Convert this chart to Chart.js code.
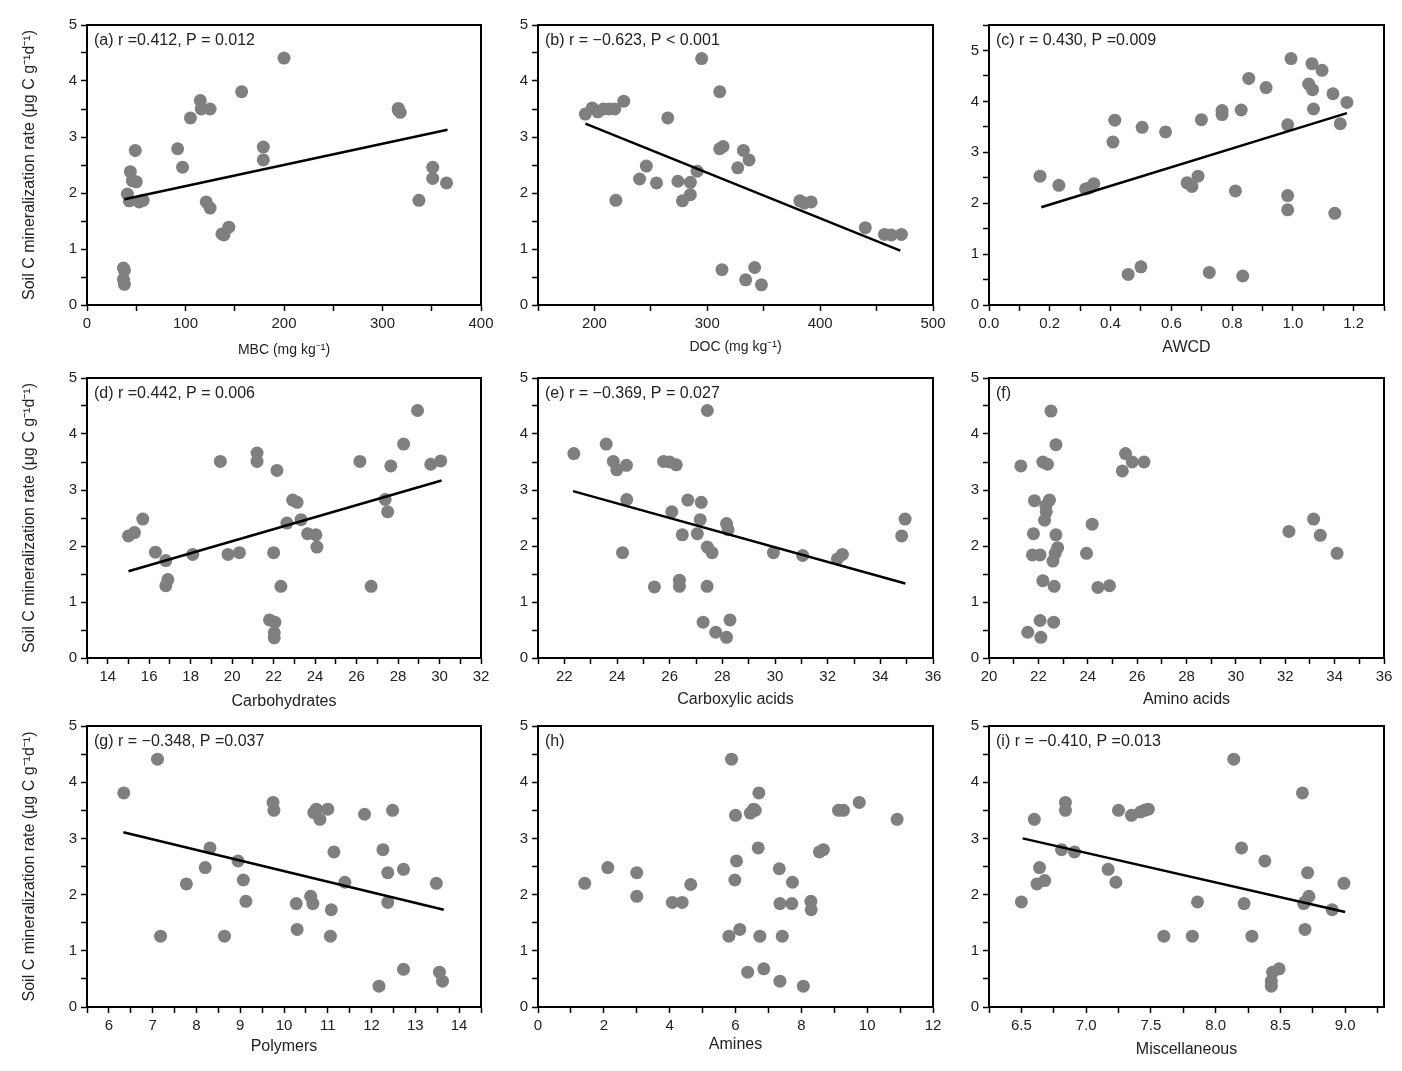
<!DOCTYPE html>
<html><head><meta charset="utf-8">
<script src="https://cdn.jsdelivr.net/npm/chart.js@4.4.0/dist/chart.umd.min.js"></script>
<style>
html,body{margin:0;padding:0;background:#fff;width:1402px;height:1071px;overflow:hidden;position:relative}
canvas{position:absolute}
</style></head><body>
<script>
// ---------- DATA ----------
const yTitleText = 'Soil C mineralization rate (μg C g⁻¹d⁻¹)';

const aX = [200,157,115,116,125,105,92,97,49,44,46,50,41,43,53,57,121,125,137,139,144,179,179,316,318,316,351,351,365,337,37,37,38,38];
const aY = [4.41,3.81,3.65,3.50,3.50,3.34,2.79,2.46,2.76,2.38,2.22,2.20,1.98,1.86,1.84,1.87,1.84,1.73,1.27,1.25,1.39,2.82,2.59,3.51,3.44,3.48,2.46,2.26,2.18,1.87,0.66,0.46,0.37,0.62];
const aFitX = [38,366], aFitY = [1.89,3.13];

const bX = [295,311,226,192,198,203,208,213,218,265,311,314,332,337,327,291,246,240,255,274,285,285,278,219,382,386,392,440,457,463,472,313,342,334,348];
const bY = [4.40,3.81,3.64,3.41,3.52,3.45,3.50,3.50,3.50,3.34,2.79,2.83,2.76,2.59,2.45,2.39,2.48,2.25,2.18,2.21,2.19,1.97,1.86,1.87,1.86,1.82,1.84,1.38,1.26,1.25,1.26,0.63,0.67,0.45,0.36];
const bFitX = [192,471], bFitY = [3.24,0.97];

const cX = [0.168,0.23,0.318,0.345,0.33,0.414,0.408,0.458,0.50,0.504,0.581,0.652,0.668,0.688,0.699,0.725,0.767,0.767,0.83,0.811,0.835,0.855,0.912,0.983,0.983,0.983,0.994,1.063,1.096,1.052,1.065,1.068,1.132,1.178,1.156,1.138];
const cY = [2.53,2.35,2.28,2.38,2.30,3.63,3.20,0.60,0.75,3.49,3.40,2.40,2.33,2.53,3.64,0.64,3.82,3.74,3.83,2.24,0.57,4.45,4.27,3.54,2.15,1.87,4.84,4.74,4.61,4.34,4.23,3.85,4.15,3.98,3.56,1.80];
const cFitX = [0.172,1.178], cFitY = [1.92,3.77];

const dX = [28.94,28.27,21.2,21.2,19.43,22.16,26.16,27.65,29.58,30.06,27.38,27.5,22.92,23.13,15.69,15.0,15.29,22.64,23.32,23.64,24.04,24.09,16.3,16.8,18.1,19.8,20.35,22.0,16.9,16.8,22.35,26.7,21.8,22.06,22.03,22.03];
const dY = [4.42,3.82,3.66,3.51,3.51,3.35,3.51,3.43,3.46,3.52,2.83,2.61,2.82,2.78,2.48,2.18,2.24,2.41,2.47,2.22,2.20,1.98,1.89,1.74,1.85,1.85,1.88,1.88,1.40,1.29,1.28,1.28,0.68,0.64,0.45,0.36];
const dFitX = [15.0,30.1], dFitY = [1.55,3.17];

const eX = [27.43,23.59,22.36,23.86,23.99,24.36,25.77,26.25,24.37,26.69,27.2,26.08,27.16,28.16,28.22,27.05,26.48,34.81,34.94,27.43,27.61,24.21,29.94,31.05,32.37,32.56,25.42,26.37,26.37,27.42,27.27,28.29,27.75,28.16,26.0];
const eY = [4.42,3.82,3.65,3.51,3.36,3.44,3.51,3.45,2.83,2.82,2.78,2.61,2.47,2.40,2.29,2.22,2.20,2.18,2.48,1.98,1.88,1.88,1.88,1.83,1.77,1.85,1.27,1.39,1.28,1.28,0.64,0.68,0.46,0.37,3.50];
const eFitX = [22.33,34.95], eFitY = [2.98,1.33];

const fX = [22.51,22.71,21.29,22.18,22.37,21.84,22.45,22.32,22.25,21.8,22.71,22.78,22.68,22.59,21.76,22.07,22.18,22.64,22.07,22.62,21.57,22.1,25.53,25.8,26.28,25.4,24.18,23.95,24.41,24.88,32.15,33.15,33.42,34.1,22.3];
const fY = [4.41,3.81,3.43,3.50,3.46,2.81,2.82,2.61,2.46,2.22,2.20,1.97,1.87,1.73,1.84,1.84,1.38,1.28,0.67,0.64,0.46,0.37,3.65,3.50,3.50,3.34,2.39,1.87,1.26,1.29,2.26,2.48,2.19,1.87,2.72];

const gX = [7.11,6.34,9.75,9.77,10.68,10.74,10.82,11.0,11.84,12.48,8.31,12.26,11.14,8.2,8.95,12.73,12.37,9.07,11.39,13.48,7.77,9.13,10.61,10.66,10.28,12.37,11.08,10.30,7.18,8.64,11.06,12.73,13.55,13.62,12.17];
const gY = [4.41,3.81,3.64,3.50,3.46,3.52,3.34,3.52,3.43,3.50,2.83,2.80,2.76,2.48,2.60,2.45,2.39,2.26,2.22,2.20,2.19,1.88,1.97,1.84,1.84,1.86,1.73,1.38,1.26,1.26,1.26,0.67,0.62,0.46,0.37];
const gFitX = [6.33,13.65], gFitY = [3.11,1.73];

const hX = [5.88,6.71,6.0,6.45,6.55,6.6,9.13,9.28,9.76,10.91,8.55,8.67,6.69,6.03,7.33,7.73,5.98,1.42,2.12,3.0,3.0,4.08,4.38,4.64,7.35,7.71,8.29,8.3,6.13,5.80,6.74,7.42,6.37,6.86,7.35,8.06];
const hY = [4.41,3.81,3.41,3.45,3.52,3.50,3.50,3.50,3.64,3.34,2.76,2.80,2.83,2.60,2.46,2.22,2.26,2.20,2.48,2.39,1.97,1.86,1.86,2.18,1.84,1.84,1.88,1.73,1.38,1.26,1.26,1.26,0.62,0.68,0.46,0.37];

const iX = [8.14,8.67,6.84,6.84,6.60,7.25,7.35,7.42,7.45,7.48,6.81,6.91,6.64,6.62,6.68,7.17,7.23,6.5,8.20,8.38,8.71,8.72,8.69,8.68,8.99,8.90,7.86,8.22,7.60,7.82,8.28,8.69,8.49,8.44,8.43,8.43];
const iY = [4.41,3.81,3.64,3.50,3.34,3.50,3.41,3.47,3.50,3.52,2.80,2.76,2.48,2.19,2.25,2.45,2.22,1.87,2.83,2.60,2.39,1.97,1.87,1.84,2.20,1.73,1.87,1.84,1.26,1.26,1.26,1.38,0.68,0.62,0.46,0.37];
const iFitX = [6.51,9.0], iFitY = [3.0,1.69];

const notes = ['(a) r =0.412, P = 0.012','(b) r = \u22120.623, P < 0.001','(c) r = 0.430, P =0.009',
               '(d) r =0.442, P = 0.006','(e) r = \u22120.369, P = 0.027','(f)',
               '(g) r = \u22120.348, P =0.037','(h)','(i) r = \u22120.410, P =0.013'];
const xTitles = ['MBC (mg kg⁻¹)','DOC (mg kg⁻¹)','AWCD','Carbohydrates','Carboxylic acids','Amino acids','Polymers','Amines','Miscellaneous'];
// x axis: [min, max, minor step, label step, decimals]
const xAxes = [[0,400,50,100,0],[150,500,50,100,0],[0,1.3,0.1,0.2,1],
               [13,32,1,2,0],[21,36,1,2,0],[20,36,1,2,0],
               [5.5,14.5,0.5,1,0],[0,12,1,2,0],[6.25,9.3,0.25,0.5,1]];
// y axis: [min, max, minor step, label step]
const yAxes = [[0,5,0.5,1],[0,5,0.5,1],[0,5.5,0.5,1],[0,5,0.5,1],[0,5,0.5,1],[0,5,0.5,1],[0,5,0.5,1],[0,5,0.5,1],[0,5,0.5,1]];

const seriesX = [aX,bX,cX,dX,eX,fX,gX,hX,iX];
const seriesY = [aY,bY,cY,dY,eY,fY,gY,hY,iY];
const fitsX = [aFitX,bFitX,cFitX,dFitX,eFitX,null,gFitX,null,iFitX];
const fitsY = [aFitY,bFitY,cFitY,dFitY,eFitY,null,gFitY,null,iFitY];

// ---------- LAYOUT ----------
const rowsTB = [[25,305],[378,658],[726,1007]];
const colsLR = [[87,481],[538,933],[989,1384]];
const xTitleCenterY = [350,347,348,702,700,700,1047,1045,1050];
const xTitleSize = [14,14,16,16,16,16,16,16,16];
const FONT = '"Liberation Sans", Arial, Helvetica, sans-serif';
const TXT = '#222';

const framePlugin = {
  id: 'frame',
  afterDatasetsDraw(chart, args, opts) {
    const {ctx, chartArea: a} = chart;
    ctx.save();
    ctx.strokeStyle = '#000';
    ctx.lineWidth = 2;
    ctx.strokeRect(a.left, a.top, a.right - a.left, a.bottom - a.top);
    if (opts.text) {
      ctx.fillStyle = TXT;
      ctx.font = '16px ' + FONT;
      ctx.textBaseline = 'middle';
      ctx.textAlign = 'left';
      ctx.fillText(opts.text, a.left + 7, a.top + 16);
    }
    ctx.restore();
  }
};

function isMult(v, step) {
  const r = v / step;
  return Math.abs(r - Math.round(r)) < 1e-6;
}

for (let p = 0; p < 9; p++) {
  const row = Math.floor(p / 3), col = p % 3;
  const [T, B] = rowsTB[row];
  const [L, R] = colsLR[col];
  const cLeft = col === 0 ? 0 : L - 60;
  const cTop = T - 15;
  const cRight = Math.min(R + 18, 1402);
  const cBottom = B + 60;
  const W = cRight - cLeft, H = cBottom - cTop;
  const cv = document.createElement('canvas');
  cv.width = W; cv.height = H;
  cv.style.left = cLeft + 'px'; cv.style.top = cTop + 'px';
  cv.style.width = W + 'px'; cv.style.height = H + 'px';
  document.body.appendChild(cv);

  const pts = seriesX[p].map((x, k) => ({x: x, y: seriesY[p][k]}));
  const datasets = [];
  if (fitsX[p]) {
    datasets.push({
      data: fitsX[p].map((x, k) => ({x: x, y: fitsY[p][k]})),
      showLine: true, borderColor: '#000', borderWidth: 2.5, pointRadius: 0, fill: false, order: 0
    });
  }
  datasets.push({
    data: pts, pointRadius: 6.5, pointBackgroundColor: '#7f7f7f', pointBorderWidth: 0,
    pointBorderColor: '#7f7f7f', showLine: false, order: 1
  });

  const xa = xAxes[p], ya = yAxes[p];
  const tsz = xTitleSize[p];
  const titlePadBottom = (cBottom - xTitleCenterY[p]) - tsz * 1.2 / 2;

  new Chart(cv, {
    type: 'scatter',
    data: {datasets: datasets},
    options: {
      responsive: false, animation: false, events: [],
      layout: {padding: {left: 0, top: 15, right: cRight - R, bottom: 0}},
      plugins: {legend: {display: false}, tooltip: {enabled: false}, frame: {text: notes[p]}},
      scales: {
        x: {
          type: 'linear', position: 'bottom', min: xa[0], max: xa[1],
          afterFit: s => { s.height = 60; },
          border: {display: true, color: '#000', width: 2},
          grid: {display: true, drawOnChartArea: false, drawTicks: true, tickLength: 6, tickColor: '#000', tickWidth: 1.5},
          ticks: {
            stepSize: xa[2], autoSkip: false, includeBounds: false, maxRotation: 0, padding: 4,
            color: TXT, font: {family: FONT, size: 15},
            callback: v => isMult(v, xa[3]) ? v.toFixed(xa[4]) : ''
          },
          title: {display: true, text: xTitles[p], color: TXT, font: {family: FONT, size: tsz},
                  padding: {top: 0, bottom: titlePadBottom}}
        },
        y: {
          type: 'linear', position: 'left', min: ya[0], max: ya[1],
          afterFit: s => { s.width = L - cLeft; },
          border: {display: true, color: '#000', width: 2},
          grid: {display: true, drawOnChartArea: false, drawTicks: true, tickLength: 6, tickColor: '#000', tickWidth: 1.5},
          ticks: {
            stepSize: ya[2], autoSkip: false, includeBounds: false, padding: 4,
            color: TXT, font: {family: FONT, size: 15},
            callback: v => isMult(v, ya[3]) ? String(Math.round(v)) : ''
          },
          title: {display: col === 0, text: yTitleText, color: TXT, font: {family: FONT, size: 16},
                  padding: {top: 20, bottom: 0}}
        }
      }
    },
    plugins: [framePlugin]
  });
}
</script>
</body></html>
